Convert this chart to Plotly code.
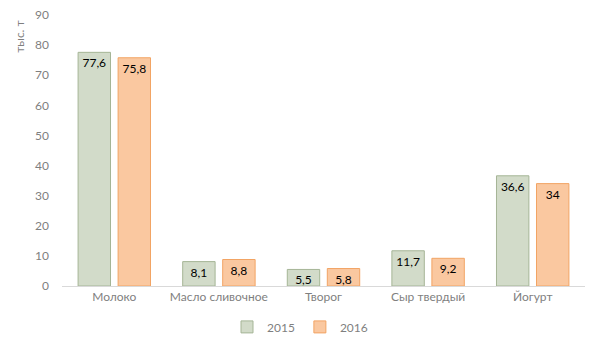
import plotly.graph_objects as go

categories = ["Молоко", "Масло сливочное", "Творог", "Сыр твердый", "Йогурт"]
values_2015 = [77.6, 8.1, 5.5, 11.7, 36.6]
values_2016 = [75.8, 8.8, 5.8, 9.2, 34]
y_ticks = [0, 10, 20, 30, 40, 50, 60, 70, 80, 90]


def fmt(v):
    s = f"{v:g}"
    return s.replace(".", ",")


def bar(name, vals, fill, edge):
    return go.Bar(
        name=name, x=categories, y=vals,
        text=[fmt(v) for v in vals],
        textposition="inside", insidetextanchor="end", textangle=0,
        constraintext="none", cliponaxis=False,
        textfont=dict(color="#000000", size=12, family="Lato"),
        marker=dict(color=fill, line=dict(color=edge, width=1)),
    )


fig = go.Figure()
fig.add_trace(bar("2015", values_2015, "#d2dbc9", "#a5b596"))
fig.add_trace(bar("2016", values_2016, "#fac8a0", "#f2a464"))

fig.update_layout(
    width=600, height=350,
    margin=dict(l=62, r=15, t=15, b=64, autoexpand=False),
    paper_bgcolor="white", plot_bgcolor="white",
    font=dict(family="Lato", size=12, color="#7f7f7f"),
    barmode="group", bargap=0.235, bargroupgap=0.19,
    showlegend=True,
    legend=dict(orientation="h", x=0.5, xanchor="center", xref="container",
                y=0.066, yanchor="middle", yref="container",
                font=dict(size=12, color="#7f7f7f"),
                itemwidth=30, traceorder="normal"),
    uniformtext=dict(minsize=10, mode="show"),
)
fig.update_xaxes(showgrid=False, showline=True, linecolor="#d9d9d9", linewidth=1,
                 ticks="", tickfont=dict(size=12, color="#7f7f7f"))
fig.update_yaxes(range=[0, 90], tickvals=y_ticks, showgrid=False, zeroline=False,
                 showline=False, ticks="", tickfont=dict(size=12, color="#7f7f7f"),
                 ticklabelstandoff=12)
fig.add_annotation(text="тыс. т", xref="paper", yref="paper", x=-0.08, y=0.92,
                   textangle=-90, showarrow=False, xanchor="center", yanchor="middle",
                   font=dict(size=12, color="#7f7f7f"))

fig.write_html("out.html")
